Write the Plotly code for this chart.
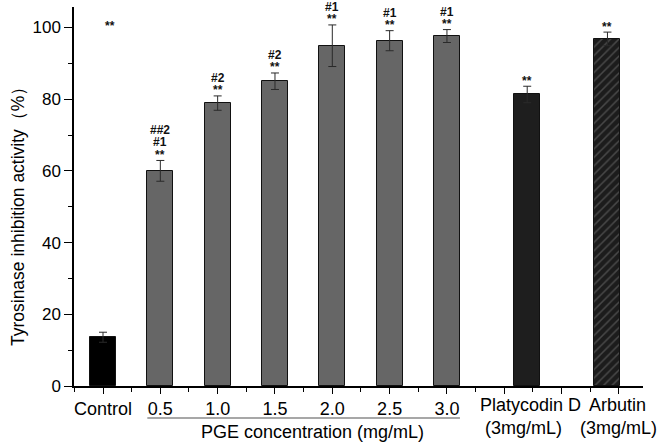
import plotly.graph_objects as go

# ---- data ----
categories = ["Control", "0.5", "1.0", "1.5", "2.0", "2.5", "3.0", "Platycodin D", "Arbutin"]
values = [13.6, 60.0, 78.9, 85.0, 94.9, 96.3, 97.6, 81.3, 96.8]
errors = [1.4, 2.9, 2.0, 2.3, 5.8, 2.8, 1.8, 2.3, 1.9]
# significance marks per bar, listed bottom-to-top
sig_marks = [[], ["**", "#1", "##2"], ["**", "#2"], ["**", "#2"], ["**", "#1"],
             ["**", "#1"], ["**", "#1"], ["**"], ["**"]]
y_ticks = [0, 20, 40, 60, 80, 100]

# ---- layout helpers ----
positions = [1, 2, 3, 4, 5, 6, 7, 8.40, 9.80]
bar_w = 0.454
colors = ["#000000", "#666666", "#666666", "#666666", "#666666", "#666666", "#666666",
          "#1e1e1e", "#1c1c1c"]
FONT = "Liberation Sans, Arial, sans-serif"
XF = 18

fig = go.Figure()
for i in range(len(categories)):
    marker = dict(color=colors[i], line=dict(color="#111111", width=1))
    if categories[i] == "Arbutin":
        marker["pattern"] = dict(shape="/", bgcolor="#1c1c1c", fgcolor="#484848",
                                 size=6, solidity=0.25, fillmode="replace")
    fig.add_trace(go.Bar(
        x=[positions[i]], y=[values[i]], width=bar_w, marker=marker,
        error_y=dict(type="data", array=[errors[i]], visible=True,
                     color="#2a2a2a", thickness=1, width=4),
        showlegend=False, name=categories[i]))

annotations = []
for i, marks in enumerate(sig_marks):
    top = values[i] + errors[i]
    shift = 8
    for j, m in enumerate(marks):
        corr = -2.5 if m == "**" else 0
        annotations.append(dict(x=positions[i], y=top, xref="x", yref="y", text="<b>%s</b>" % m,
                                showarrow=False, yanchor="middle", yshift=shift + corr,
                                font=dict(family=FONT, size=12, color="#111111")))
        shift += 10 if j == 0 else 12
# stray mark at top-left
annotations.append(dict(x=1.13, y=101.1, xref="x", yref="y", text="<b>**</b>", showarrow=False,
                        yanchor="middle", yshift=-2.5, font=dict(family=FONT, size=12, color="#111111")))

# custom x labels for the reference compounds
annotations += [
    dict(x=8.45, y=0, xref="x", yref="paper", text=categories[7], showarrow=False,
         yanchor="middle", yshift=-19, font=dict(family=FONT, size=XF, color="black")),
    dict(x=8.33, y=0, xref="x", yref="paper", text="(3mg/mL)", showarrow=False,
         yanchor="middle", yshift=-42, font=dict(family=FONT, size=XF, color="black")),
    dict(x=9.97, y=0, xref="x", yref="paper", text=categories[8], showarrow=False,
         yanchor="middle", yshift=-19, font=dict(family=FONT, size=XF, color="black")),
    dict(x=9.99, y=0, xref="x", yref="paper", text="(3mg/mL)", showarrow=False,
         yanchor="middle", yshift=-42, font=dict(family=FONT, size=XF, color="black")),
    dict(x=4.65, y=0, xref="x", yref="paper", text="PGE concentration (mg/mL)", showarrow=False,
         yanchor="middle", yshift=-46, font=dict(family=FONT, size=XF, color="black")),
    dict(x=0, y=0.459, xref="paper", yref="paper", text="Tyrosinase inhibition activity（%）",
         textangle=-90, showarrow=False, xanchor="center", yanchor="middle", xshift=-56,
         font=dict(family=FONT, size=17.5, color="black")),
]

fig.add_shape(type="line", xref="x", yref="paper",
              x0=positions[1] - bar_w / 2, x1=positions[6] + bar_w / 2, y0=-0.0844, y1=-0.0844,
              line=dict(color="#8a8a8a", width=1.5))

fig.update_layout(
    width=663, height=443, margin=dict(l=74, r=20, t=7, b=57),
    plot_bgcolor="white", paper_bgcolor="white", bargap=0,
    font=dict(family=FONT, color="black"),
    annotations=annotations,
    xaxis=dict(range=[0.494, 10.42], showgrid=False, zeroline=False, showline=True,
               linecolor="black", linewidth=1.5,
               tickmode="array", tickvals=positions[:7] + [8, 9, 10],
               ticktext=categories[:7] + ["", "", ""],
               ticks="outside", ticklen=6, tickwidth=1.2, tickcolor="black",
               tickfont=dict(family=FONT, size=XF, color="black"),
               minor=dict(dtick=0.5, tick0=0.5, ticks="outside", ticklen=4, tickwidth=1.2,
                          tickcolor="black", showgrid=False)),
    yaxis=dict(range=[0, 105.7], showgrid=False, zeroline=False, showline=True,
               linecolor="black", linewidth=1.5,
               tickmode="array", tickvals=y_ticks,
               ticks="outside", ticklen=8, tickwidth=1.2, tickcolor="black",
               tickfont=dict(family=FONT, size=17, color="black"),
               minor=dict(dtick=10, tick0=0, ticks="outside", ticklen=4, tickwidth=1.2,
                          tickcolor="black", showgrid=False)),
)

fig.write_html("out.html", config={"displayModeBar": False},
               post_script="document.body.style.margin='0';document.body.style.overflow='hidden';")
